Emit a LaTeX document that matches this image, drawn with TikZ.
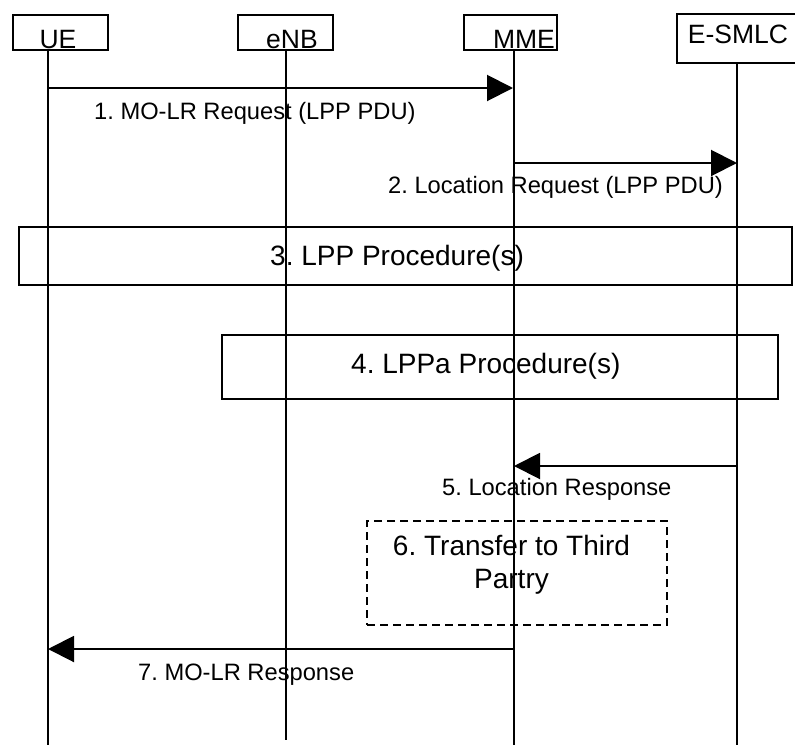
\documentclass[tikz,border=0pt]{standalone}
\usepackage{fontspec}
\setmainfont{Liberation Sans}
\frenchspacing
\usetikzlibrary{arrows.meta}
\begin{document}
\begin{tikzpicture}[x=1pt,y=-1pt,
  entity/.style={draw, line width=1.3pt, inner sep=0pt, minimum height=35pt},
  hdrtext/.style={inner sep=0pt, anchor=base, font=\fontsize{26.5}{30}\selectfont},
  lifeline/.style={line width=1.3pt},
  msg/.style={line width=2pt, -{Triangle[length=26pt, width=26pt]}},
  msglabel/.style={inner sep=0pt, anchor=base west, font=\fontsize{23.7}{28}\selectfont},
  procbox/.style={draw, line width=1.5pt, inner sep=0pt},
  proctext/.style={inner sep=0pt, anchor=base west, font=\fontsize{28}{33}\selectfont},
  optbox/.style={draw, line width=1.5pt, dash pattern=on 8pt off 5pt, inner sep=0pt}]
\useasboundingbox (0,0) rectangle (795,745);

% header boxes
\node[entity, minimum width=95pt] (ue) at (60.5,32.5) {};
\node[entity, minimum width=95pt] (enb) at (285.5,32.5) {};
\node[entity, minimum width=93pt] (mme) at (510.5,32.5) {};
\node[entity, minimum width=123pt, minimum height=49pt] (esmlc) at (738.5,38.5) {};
\node[hdrtext] (ueT) at (58,48) {UE};
\node[hdrtext] (enbT) at (292,48) {eNB};
\node[hdrtext] (mmeT) at (524,48) {MME};
\node[hdrtext] (esmlcT) at (738,43) {E-SMLC};

% lifelines
\coordinate (ueTop) at (48,50);   \coordinate (ueBot) at (48,745);
\coordinate (enbTop) at (286,50); \coordinate (enbBot) at (286,740);
\coordinate (mmeTop) at (514,50); \coordinate (mmeBot) at (514,745);
\coordinate (esTop) at (737,63);  \coordinate (esBot) at (737,745);
\draw[lifeline] (ueTop) -- (ueBot);
\draw[lifeline] (enbTop) -- (enbBot);
\draw[lifeline] (mmeTop) -- (mmeBot);
\draw[lifeline] (esTop) -- (esBot);

% message 1
\coordinate (m1a) at (48,88); \coordinate (m1b) at (513,88);
\draw[msg] (m1a) -- (m1b);
\node[msglabel] (l1) at (94,119) {1. MO-LR Request (LPP PDU)};

% message 2
\coordinate (m2a) at (514,163); \coordinate (m2b) at (737,163);
\draw[msg] (m2a) -- (m2b);
\node[msglabel] (l2) at (388,193) {2. Location Request (LPP PDU)};

% procedure 3
\node[procbox, minimum width=773pt, minimum height=58pt] (p3) at (405.5,256) {};
\node[proctext] (p3T) at (270,265) {3. LPP Procedure(s)};

% procedure 4
\node[procbox, minimum width=556pt, minimum height=64pt] (p4) at (500,367) {};
\node[proctext] (p4T) at (351,373) {4. LPPa Procedure(s)};

% message 5
\coordinate (m5a) at (737,466); \coordinate (m5b) at (514,466);
\draw[msg] (m5a) -- (m5b);
\node[msglabel] (l5) at (442,495) {5. Location Response};

% step 6
\node[optbox, minimum width=300pt, minimum height=104pt] (p6) at (517,573) {};
\node[proctext, anchor=base] (p6a) at (511.5,555) {6. Transfer to Third};
\node[proctext, anchor=base] (p6b) at (511.5,588) {Partry};

% message 7
\coordinate (m7a) at (514,649); \coordinate (m7b) at (48,649);
\draw[msg] (m7a) -- (m7b);
\node[msglabel] (l7) at (138,680) {7. MO-LR Response};
\end{tikzpicture}
\end{document}
